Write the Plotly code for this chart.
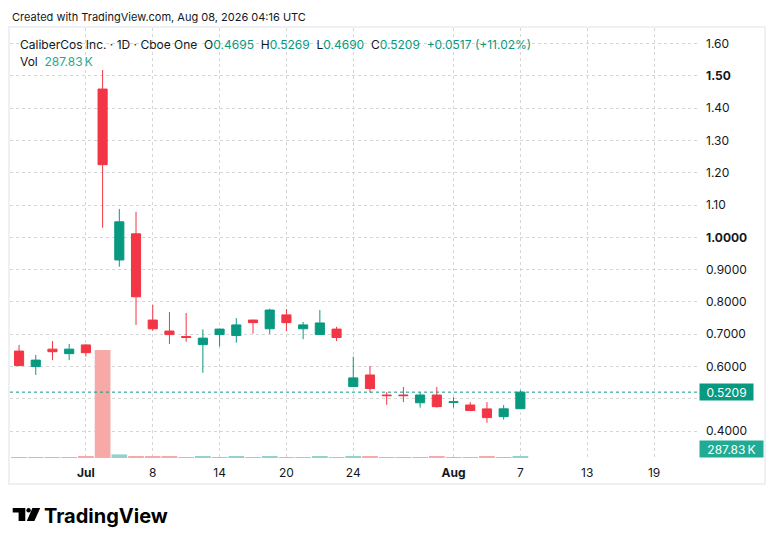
import plotly.graph_objects as go

# daily bars, CaliberCos Inc. (Cboe One)
dates = ["2026-06-25", "2026-06-26", "2026-06-29", "2026-06-30", "2026-07-01",
         "2026-07-02", "2026-07-06", "2026-07-07", "2026-07-08", "2026-07-09",
         "2026-07-10", "2026-07-13", "2026-07-14", "2026-07-15", "2026-07-16",
         "2026-07-17", "2026-07-20", "2026-07-21", "2026-07-22", "2026-07-23",
         "2026-07-24", "2026-07-27", "2026-07-28", "2026-07-29", "2026-07-30",
         "2026-07-31", "2026-08-03", "2026-08-04", "2026-08-05", "2026-08-06",
         "2026-08-07"]
opens = [0.648, 0.600, 0.654, 0.640, 0.667, 1.459, 0.930, 1.011, 0.744, 0.710,
         0.693, 0.668, 0.699, 0.696, 0.744, 0.717, 0.760, 0.717, 0.699, 0.716,
         0.538, 0.574, 0.512, 0.512, 0.488, 0.512, 0.489, 0.481, 0.469, 0.445,
         0.4695]
highs = [0.667, 0.636, 0.679, 0.670, 0.669, 1.518, 1.088, 1.079, 0.791, 0.769,
         0.766, 0.715, 0.717, 0.750, 0.745, 0.779, 0.778, 0.738, 0.775, 0.723,
         0.631, 0.602, 0.521, 0.537, 0.520, 0.537, 0.505, 0.490, 0.490, 0.481,
         0.5269]
lows = [0.603, 0.574, 0.620, 0.620, 0.631, 1.030, 0.909, 0.729, 0.711, 0.670,
        0.677, 0.581, 0.662, 0.674, 0.702, 0.701, 0.710, 0.685, 0.699, 0.679,
        0.537, 0.519, 0.482, 0.490, 0.473, 0.473, 0.473, 0.463, 0.426, 0.436,
        0.4690]
closes = [0.603, 0.620, 0.646, 0.654, 0.643, 1.225, 1.048, 0.816, 0.717, 0.699,
          0.690, 0.688, 0.716, 0.729, 0.736, 0.775, 0.736, 0.729, 0.735, 0.690,
          0.565, 0.532, 0.510, 0.510, 0.512, 0.476, 0.491, 0.464, 0.442, 0.4692,
          0.5209]
volumes = [260e3, 240e3, 250e3, 230e3, 280e3, 28.5e6, 950e3, 450e3, 300e3, 270e3,
           260e3, 290e3, 250e3, 270e3, 240e3, 300e3, 260e3, 250e3, 280e3, 240e3,
           310e3, 290e3, 260e3, 250e3, 240e3, 270e3, 230e3, 260e3, 280e3, 250e3,
           287.83e3]

x_tick_dates = ["2026-07-01", "2026-07-08", "2026-07-14", "2026-07-20", "2026-07-24",
                "2026-08-03", "2026-08-07", "2026-08-13", "2026-08-19"]
x_tick_text = ["<b>Jul</b>", "8", "14", "20", "24", "<b>Aug</b>", "7", "13", "19"]
y_tick_vals = [0.4, 0.5, 0.6, 0.7, 0.8, 0.9, 1.0, 1.1, 1.2, 1.3, 1.4, 1.5, 1.6]
# 0.5000 sits under the last-price label, so it is left blank
y_tick_text = ["0.4000", "", "0.6000", "0.7000", "0.8000", "0.9000",
               "<b>1.0000</b>", "1.10", "1.20", "1.30", "1.40", "<b>1.50</b>", "1.60"]
holidays = ["2026-07-03"]

UP = "#089981"
DOWN = "#F23645"
UP_VOL = "#92D2CC"
DOWN_VOL = "#F7A9A7"
VOL_TXT = "#22AB94"
TXT = "#131722"
FONT = "Inter"

# page coordinates (the page body adds an 8px margin around the figure)
OFF = 8
PL, PR, PT, PB = 10, 697, 28, 458
W, H = 776 - OFF, 546 - OFF


def px(X):
    return (X - PL) / (PR - PL)


def py(Y):
    return (PB - Y) / (PB - PT)


vol_colors = [UP_VOL if c >= o else DOWN_VOL for o, c in zip(opens, closes)]

fig = go.Figure()
fig.add_trace(go.Candlestick(
    x=dates, open=opens, high=highs, low=lows, close=closes,
    increasing=dict(line=dict(color=UP, width=1), fillcolor=UP),
    decreasing=dict(line=dict(color=DOWN, width=1), fillcolor=DOWN),
    whiskerwidth=0, yaxis="y", hoverinfo="skip"))
fig.add_trace(go.Bar(
    x=dates, y=volumes, marker=dict(color=vol_colors, line=dict(width=0)),
    yaxis="y2", hoverinfo="skip"))

last = closes[-1]
prev = closes[-2]
chg = last - prev
pct = chg / prev * 100

teal = lambda s: f"<span style='color:{UP}'>{s}</span>"
nb = "\u00a0"
line2 = (f"CaliberCos Inc. · 1D · Cboe One{nb}{nb}O{teal(f'{opens[-1]:.4f}')}{nb}{nb}"
         f"H{teal(f'{highs[-1]:.4f}')}{nb}{nb}L{teal(f'{lows[-1]:.4f}')}{nb}{nb}"
         f"C{teal(f'{last:.4f}')}{nb}{nb}{teal(f'{chg:+.4f} ({pct:+.2f}%)')}")
vol_txt = f"{volumes[-1] / 1e3:.2f}\u2009K"
line3 = f"Vol{nb}{nb}<span style='color:{VOL_TXT}'>{vol_txt}</span>"

annotations = [
    dict(text="Created with TradingView.com, Aug 08, 2026 04:16 UTC", x=px(10), y=py(17),
         font=dict(size=11, color=TXT)),
    dict(text=line2, x=px(18), y=py(44), font=dict(size=12, color=TXT)),
    dict(text=line3, x=px(18), y=py(61), font=dict(size=12, color=TXT)),
    dict(text=f"{last:.4f}", x=px(699), y=last, yref="y", bgcolor=UP, borderpad=1,
         width=51, height=14, align="center", font=dict(size=12, color="white")),
    dict(text=vol_txt, x=px(699), y=py(458), yanchor="bottom", bgcolor=VOL_TXT,
         borderpad=1, width=61, height=14, align="center",
         font=dict(size=12, color="white")),
    dict(text="<b>TradingView</b>", x=px(42), y=py(516), font=dict(size=20, color="#000000")),
]
for a in annotations:
    a.setdefault("xref", "paper")
    a.setdefault("yref", "paper")
    a.setdefault("xanchor", "left")
    a.setdefault("yanchor", "middle")
    a["showarrow"] = False

shapes = [
    # chart frame
    dict(type="rect", xref="paper", yref="paper", x0=px(9), x1=px(765), y0=py(484), y1=py(27),
         line=dict(color="#EEF0F3", width=2), layer="below"),
    # last price line
    dict(type="line", xref="paper", yref="y", x0=0, x1=1, y0=last, y1=last,
         line=dict(color=UP, width=1, dash="dot")),
    # logo mark
    dict(type="path", xref="paper", yref="paper", fillcolor="#000000", line=dict(width=0),
         path=(f"M{px(12.7)},{py(508)} L{px(25.3)},{py(508)} L{px(25.3)},{py(521)} "
               f"L{px(18.6)},{py(521)} L{px(18.6)},{py(512.5)} L{px(12.7)},{py(512.5)} Z")),
    dict(type="circle", xref="paper", yref="paper", fillcolor="#000000", line=dict(width=0),
         x0=px(26.4), x1=px(30.8), y0=py(512.5), y1=py(508)),
    dict(type="path", xref="paper", yref="paper", fillcolor="#000000", line=dict(width=0),
         path=(f"M{px(32.4)},{py(508)} L{px(40.2)},{py(508)} L{px(34.4)},{py(521)} "
               f"L{px(26.8)},{py(521)} Z")),
]

vol_top = max(volumes) / ((PB - 350) / (PB - PT))

fig.update_layout(
    width=W, height=H,
    margin=dict(l=PL - OFF, r=776 - PR, t=PT - OFF, b=546 - PB),
    paper_bgcolor="white", plot_bgcolor="white",
    showlegend=False, boxgap=0.22, bargap=0.06,
    font=dict(family=FONT, size=12, color=TXT),
    annotations=annotations, shapes=shapes,
    xaxis=dict(
        type="date", range=["2026-06-24 11:00", "2026-08-21 13:40"],
        rangebreaks=[dict(bounds=["sat", "mon"]), dict(values=holidays)],
        rangeslider=dict(visible=False),
        tickvals=x_tick_dates, ticktext=x_tick_text, ticks="",
        showgrid=True, gridcolor="#D6D6D6", griddash="dot", gridwidth=1,
        showline=False, zeroline=False, ticklabelstandoff=6,
        tickfont=dict(family=FONT, size=12, color=TXT)),
    yaxis=dict(
        side="right", range=[0.317, 1.648],
        tickvals=y_tick_vals, ticktext=y_tick_text, ticks="",
        showgrid=True, gridcolor="#D6D6D6", griddash="dot", gridwidth=1,
        zeroline=False, showline=False, ticklabelstandoff=8,
        tickfont=dict(family=FONT, size=12, color=TXT)),
    yaxis2=dict(overlaying="y", range=[0, vol_top], visible=False),
)

fig.write_html("out.html")
